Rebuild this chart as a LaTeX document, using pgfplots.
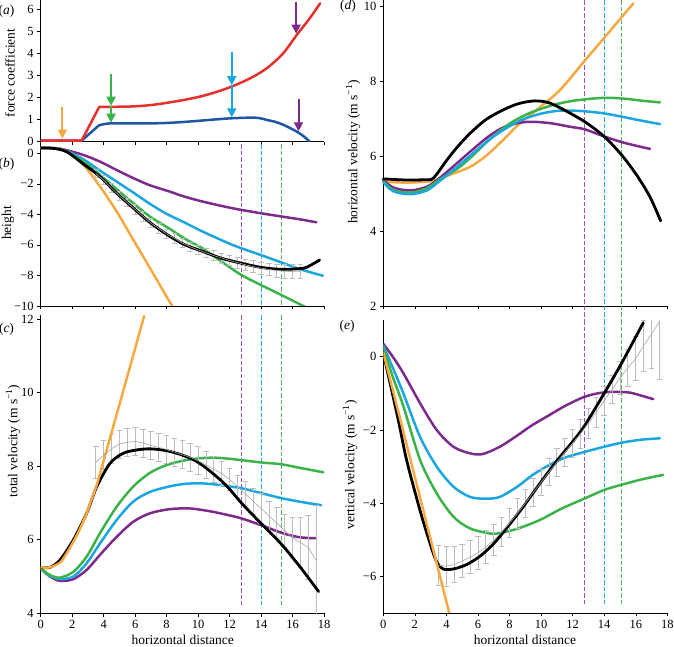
\documentclass[border=0pt]{standalone}
\usepackage{fontspec}
\setmainfont{Liberation Serif}
\usepackage{pgfplots}
\pgfplotsset{compat=1.18}
\usepackage{pgfplotstable}
\usetikzlibrary{arrows.meta}

\definecolor{cOr}{HTML}{F6A941}
\definecolor{cGr}{HTML}{3BB34A}
\definecolor{cCy}{HTML}{1BA6DF}
\definecolor{cPu}{HTML}{7D2A8D}
\definecolor{cRe}{HTML}{E4312D}
\definecolor{cBl}{HTML}{1F57A3}
\definecolor{cGy}{HTML}{BDBDBD}
\definecolor{cGyL}{HTML}{A5A5A5}
\definecolor{dPu}{HTML}{A04DB5}
\definecolor{dCy}{HTML}{2BAAE2}
\definecolor{dGr}{HTML}{4DB85A}

\pgfplotsset{
  panel/.style={scale only axis, xmin=0, xmax=18, xtick={0,2,...,18},
    axis x line*=bottom, axis y line*=left, axis line style={line width=0.5pt},
    tick align=outside, major tick length=3.5pt, tick style={black, line width=0.5pt},
    tick label style={font=\fontsize{12.5}{13}\selectfont},
    /pgf/number format/assume math mode=true},
  curve/.style={line width=2.5pt, smooth, line cap=round, line join=round},
  vdash/.style={line width=1pt, dash pattern=on 4.5pt off 2pt},
  ebars/.style={draw=none, mark=none, error bars/.cd, y dir=both, y explicit,
    error bar style={draw=cGy, line width=0.8pt},
    error mark options={draw=cGy, rotate=90, mark size=2.8pt, line width=0.8pt}},
  arr/.style={line width=2pt, -{Triangle[length=9pt, width=9pt]}},
}

% grey means with errors
\pgfplotstableread{
x y e
3.5 -1.32 0.28
4.0 -1.75 0.28
4.5 -2.28 0.28
5.0 -2.78 0.28
5.5 -3.23 0.28
6.0 -3.68 0.30
6.5 -4.13 0.30
7.0 -4.57 0.30
7.5 -4.92 0.30
8.0 -5.28 0.30
8.5 -5.57 0.30
9.0 -5.88 0.30
9.5 -6.12 0.30
10.0 -6.33 0.30
10.5 -6.52 0.30
11.0 -6.70 0.32
11.5 -6.86 0.32
12.0 -7.02 0.33
12.5 -7.16 0.35
13.0 -7.30 0.36
13.5 -7.42 0.38
14.0 -7.52 0.40
14.5 -7.60 0.40
15.0 -7.68 0.42
15.5 -7.73 0.45
16.0 -7.75 0.45
16.5 -7.75 0.45
}\greyb

\pgfplotstableread{
x y e
3.5 8.10 0.43
4.0 8.30 0.40
4.5 8.47 0.40
5.0 8.60 0.38
5.5 8.65 0.38
6.0 8.67 0.38
6.5 8.63 0.38
7.0 8.56 0.38
7.5 8.51 0.38
8.0 8.45 0.38
8.5 8.38 0.38
9.0 8.31 0.38
9.5 8.24 0.38
10.0 8.15 0.38
10.5 8.03 0.36
11.0 7.92 0.35
11.5 7.80 0.32
12.0 7.64 0.30
12.5 7.45 0.31
13.0 7.25 0.33
13.5 7.05 0.35
14.0 6.85 0.40
14.5 6.65 0.40
15.0 6.45 0.42
15.5 6.25 0.45
16.0 6.05 0.55
16.5 5.93 0.67
17.0 5.79 0.88
17.5 5.45 1.47
}\greyc

\pgfplotstableread{
x y e
3.5 -5.70 0.55
4.0 -5.72 0.55
4.5 -5.68 0.50
5.0 -5.58 0.45
5.5 -5.48 0.45
6.0 -5.36 0.45
6.5 -5.20 0.45
7.0 -5.01 0.42
7.5 -4.79 0.40
8.0 -4.55 0.40
8.5 -4.28 0.40
9.0 -4.00 0.38
9.5 -3.71 0.38
10.0 -3.43 0.36
10.5 -3.15 0.36
11.0 -2.88 0.38
11.5 -2.62 0.38
12.0 -2.36 0.38
12.5 -2.10 0.40
13.0 -1.82 0.40
13.5 -1.52 0.40
14.0 -1.20 0.40
14.5 -0.89 0.39
15.0 -0.58 0.45
15.5 -0.30 0.50
16.0 -0.05 0.60
16.5 0.30 0.70
17.0 0.62 0.95
17.5 0.95 1.57
}\greye

\begin{document}
\begin{tikzpicture}
\useasboundingbox (0,0) rectangle (674pt,647pt);

% (a) force coefficient
\begin{axis}[panel, at={(40.7pt,505.3pt)}, anchor=south west,
  width=283.3pt, height=141.2pt, ymin=0, ymax=6.4, ytick={0,1,...,6},
  xticklabels={}]
\addplot[cBl, line width=2.5pt, line join=round] coordinates {(0,0.05) (2.6,0.05) (3.72,0.75)};
\addplot[cBl, curve] coordinates {
(3.72,0.75) (4.4,0.83) (5.9,0.83) (7,0.83) (8,0.85) (9,0.89) (10.1,0.95)
(11.1,1.01) (12.1,1.06) (13.3,1.09) (13.9,1.07) (14.35,0.99) (14.9,0.9)
(15.4,0.77) (15.9,0.6) (16.26,0.46) (16.7,0.25) (17.1,0.0)};
\addplot[cRe, line width=2.5pt, line join=round] coordinates {(0,0.05) (2.6,0.05) (3.72,1.58)};
\addplot[cRe, curve] coordinates {
(3.72,1.58) (4.5,1.58) (5.9,1.6) (7,1.66) (8,1.76) (9,1.88) (10.1,2.04)
(11.1,2.24) (12.1,2.49) (13.3,2.87) (14.35,3.32) (15.4,4.0) (16.26,4.83)
(17.1,5.6) (17.75,6.27)};
% arrows
\addplot[cOr, arr] coordinates {(1.38,1.56) (1.38,0.14)};
\addplot[cGr, arr] coordinates {(4.47,3.07) (4.47,1.63)};
\addplot[cGr, arr] coordinates {(4.47,1.63) (4.47,0.86)};
\addplot[cCy, arr] coordinates {(12.14,4.08) (12.14,2.56)};
\addplot[cCy, arr] coordinates {(12.14,2.56) (12.14,1.1)};
\addplot[cPu, arr] coordinates {(16.23,6.35) (16.23,4.9)};
\addplot[cPu, arr] coordinates {(16.38,1.92) (16.38,0.47)};
\end{axis}

% (b) height
\begin{axis}[panel, at={(40.7pt,341pt)}, anchor=south west,
  width=283.3pt, height=161.9pt, ymin=-10, ymax=0.6,
  ytick={-10,-8,-6,-4,-2,0}, yticklabels={−10,−8,−6,−4,−2,0}, xticklabels={}]
\addplot[dPu, vdash] coordinates {(12.78,0.6) (12.78,-10)};
\addplot[dCy, vdash] coordinates {(14.0,0.6) (14.0,-10)};
\addplot[dGr, vdash] coordinates {(15.3,0.6) (15.3,-10)};
\addplot[cPu, curve] coordinates {
(0,0.35) (1,0.33) (1.65,0.2) (2.71,-0.11) (3.77,-0.55) (4.83,-1.1) (5.89,-1.63)
(6.95,-2.1) (8.2,-2.51) (9.07,-2.82) (10.13,-3.12) (11.19,-3.38) (12.0,-3.56)
(12.75,-3.71) (14.0,-3.93) (15.42,-4.16) (16.5,-4.33) (17.51,-4.52)};
\addplot[cCy, curve] coordinates {
(0,0.35) (1,0.32) (1.65,0.15) (2.71,-0.39) (3.77,-1.14) (4.83,-1.86) (5.89,-2.58)
(6.95,-3.32) (8.0,-3.97) (9.07,-4.5) (10.13,-5.05) (11.19,-5.55) (12.0,-5.92)
(12.75,-6.22) (13.98,-6.66) (15.42,-7.2) (16.5,-7.6) (17.93,-8.02)};
\addplot[cGr, curve] coordinates {
(0,0.35) (1,0.3) (1.65,0.1) (2.71,-0.55) (3.77,-1.42) (4.83,-2.36) (5.89,-3.28)
(6.95,-4.15) (8.2,-4.95) (9.2,-5.62) (10.32,-6.25) (11.5,-7.1) (12.75,-7.97)
(13.98,-8.62) (15.29,-9.28) (16.88,-10.1)};
\addplot[cOr, curve] coordinates {
(0,0.35) (1,0.3) (1.65,0.1) (2.71,-0.76) (3.77,-2.18) (4.83,-3.82) (5.89,-5.68)
(6.95,-7.53) (8.0,-9.39) (8.47,-10.2)};
\addplot[ebars] table[x=x, y=y, y error=e] {\greyb};
\addplot[black, curve, line width=2.8pt] coordinates {
(0,0.35) (0.8,0.32) (1.65,0.1) (2.71,-0.7) (3.77,-1.53) (4.83,-2.62) (5.9,-3.6)
(6.95,-4.54) (8.0,-5.3) (9.07,-5.95) (10.32,-6.44) (11.5,-6.88) (12.75,-7.2)
(13.98,-7.47) (15.29,-7.6) (16.66,-7.53) (17.2,-7.3) (17.72,-6.99)};
\addplot[cGyL, line width=0.6pt, mark=none] table[x=x, y=y] {\greyb};
\end{axis}

% (c) total velocity
\begin{axis}[panel, at={(40.7pt,33.7pt)}, anchor=south west,
  width=283.3pt, height=298pt, ymin=4, ymax=12.1, ytick={4,6,...,12}]
\addplot[dPu, vdash] coordinates {(12.78,12.1) (12.78,4.23)};
\addplot[dCy, vdash] coordinates {(14.0,12.1) (14.0,4.23)};
\addplot[dGr, vdash] coordinates {(15.3,12.1) (15.3,4.23)};
\addplot[cPu, curve] coordinates {
(0,5.22) (0.59,5.0) (1.23,4.88) (2.08,4.93) (2.92,5.18) (3.77,5.59) (4.83,6.08)
(5.89,6.49) (6.95,6.72) (8.2,6.83) (9.47,6.85) (10.8,6.77) (11.8,6.68)
(12.75,6.58) (13.98,6.4) (15.29,6.19) (16.4,6.07) (17.45,6.04)};
\addplot[cCy, curve] coordinates {
(0,5.22) (0.59,5.02) (1.23,4.93) (2.08,5.0) (2.92,5.36) (3.77,5.9) (4.83,6.54)
(5.89,7.04) (6.95,7.3) (8.2,7.45) (9.2,7.52) (10.32,7.53) (11.5,7.48)
(12.75,7.4) (13.98,7.27) (15.29,7.13) (16.5,7.03) (17.82,6.94)};
\addplot[cGr, curve] coordinates {
(0,5.22) (0.59,5.04) (1.23,4.97) (2.08,5.13) (2.92,5.54) (3.77,6.18) (4.83,6.9)
(5.89,7.45) (6.95,7.82) (8.0,8.03) (9.07,8.15) (10.0,8.21) (11.0,8.23) (12.0,8.2)
(13.0,8.15) (14.0,8.1) (15.3,8.05) (16.5,7.95) (18,7.83)};
\addplot[ebars] table[x=x, y=y, y error=e] {\greyc};
\addplot[black, curve, line width=2.8pt] coordinates {
(0,5.25) (0.59,5.25) (1.23,5.45) (2.08,6.0) (2.92,6.72) (3.56,7.44) (4.41,8.08)
(5.25,8.35) (6.1,8.44) (6.95,8.47) (8.0,8.42) (9.0,8.3) (9.9,8.13) (10.8,7.85)
(11.8,7.47) (12.75,7.0) (13.98,6.45) (15.29,5.88) (16.5,5.25) (17.66,4.59)};
\addplot[cOr, curve] coordinates {
(0,5.25) (0.59,5.25) (1.23,5.38) (1.65,5.63) (2.08,5.95) (2.5,6.3) (2.92,6.72)
(3.14,6.99) (3.56,7.49) (4.0,8.15) (5.0,9.67) (6.0,11.2) (6.57,12.08)};
\addplot[cGyL, line width=0.6pt, mark=none] table[x=x, y=y] {\greyc};
\end{axis}

% (d) horizontal velocity
\begin{axis}[panel, at={(383.3pt,341pt)}, anchor=south west,
  width=284pt, height=305.6pt, ymin=2, ymax=10.15, ytick={2,4,...,10},
  xticklabels={}, clip=false]
\addplot[dPu, vdash] coordinates {(12.78,10.15) (12.78,1.63)};
\addplot[dCy, vdash] coordinates {(14.0,10.15) (14.0,1.63)};
\addplot[dGr, vdash] coordinates {(15.1,10.15) (15.1,1.63)};
\addplot[cOr, curve] coordinates {
(0,5.32) (1.48,5.29) (3.17,5.34) (4.23,5.5) (5.49,5.71) (6.5,6.0) (7.6,6.43)
(8.6,6.85) (9.72,7.23) (11.2,7.76) (12.78,8.55) (14.0,9.15) (15.1,9.7) (15.85,10.07)};
\addplot[cPu, curve] coordinates {
(0,5.36) (0.63,5.16) (1.69,5.08) (2.75,5.18) (3.59,5.42) (4.65,5.8) (5.49,6.11)
(6.76,6.55) (7.82,6.8) (9.09,6.91) (10.5,6.88) (11.83,6.78) (12.78,6.71)
(14.0,6.52) (15.2,6.36) (16.27,6.25) (16.9,6.19)};
\addplot[cGr, curve] coordinates {
(0,5.32) (0.63,5.1) (1.69,5.02) (2.75,5.14) (3.59,5.38) (4.65,5.65) (5.49,5.94)
(6.76,6.45) (8.03,6.87) (9.3,7.15) (10.77,7.36) (12.0,7.47) (13.52,7.54)
(14.5,7.55) (15.5,7.52) (16.5,7.47) (17.53,7.43)};
\addplot[cCy, curve] coordinates {
(0,5.3) (0.63,5.06) (1.69,4.98) (2.75,5.08) (3.59,5.34) (4.65,5.7) (5.49,6.0)
(6.76,6.45) (7.82,6.75) (8.87,6.98) (10.0,7.13) (11.2,7.21) (12.5,7.2)
(13.94,7.14) (15.1,7.05) (16.27,6.95) (17.54,6.85)};
\addplot[black, curve, line width=2.8pt] coordinates {
(0,5.39) (1.48,5.36) (3.0,5.37)};
\addplot[black, curve, line width=2.8pt] coordinates {
(3.0,5.37) (3.2,5.42) (3.5,5.58) (4.01,5.88) (4.65,6.22) (5.49,6.6) (6.5,6.97)
(7.6,7.23) (8.6,7.4) (9.61,7.47) (10.5,7.42) (11.5,7.22) (12.78,6.91)
(14.0,6.52) (15.1,6.03) (16.06,5.49) (16.9,4.91) (17.58,4.27)};
\end{axis}

% (e) vertical velocity
\begin{axis}[panel, at={(383.3pt,34.1pt)}, anchor=south west,
  width=284pt, height=292.8pt, ymin=-7, ymax=1,
  ytick={-6,-4,-2,0}, yticklabels={−6,−4,−2,0}]
\addplot[dPu, vdash] coordinates {(12.78,1) (12.78,-6.78)};
\addplot[dCy, vdash] coordinates {(14.0,1) (14.0,-6.78)};
\addplot[dGr, vdash] coordinates {(15.1,1) (15.1,-6.78)};
\addplot[cPu, curve] coordinates {
(0,0.35) (0.6,0.0) (1.27,-0.45) (2.33,-1.27) (3.38,-2.0) (4.44,-2.46) (5.49,-2.64)
(6.3,-2.66) (7.39,-2.46) (8.5,-2.15) (9.4,-1.88) (10.35,-1.64) (11.5,-1.35)
(12.67,-1.11) (13.6,-1.0) (14.58,-0.96) (15.6,-0.98) (16.4,-1.07) (17.11,-1.16)};
\addplot[cCy, curve] coordinates {
(0,0.3) (0.6,-0.3) (1.27,-1.0) (2.33,-2.19) (3.38,-3.0) (4.44,-3.55) (5.49,-3.83)
(6.5,-3.88) (7.39,-3.83) (8.5,-3.55) (9.4,-3.25) (10.35,-3.0) (11.5,-2.76)
(12.78,-2.6) (14.0,-2.46) (15.1,-2.35) (16.3,-2.27) (17.53,-2.23)};
\addplot[cGr, curve] coordinates {
(0,0.25) (0.6,-0.55) (1.27,-1.35) (2.33,-2.82) (3.38,-3.73) (4.44,-4.37)
(5.49,-4.69) (6.76,-4.83) (7.39,-4.82) (8.5,-4.7) (9.93,-4.46) (11.3,-4.15)
(12.78,-3.87) (14.0,-3.64) (15.1,-3.5) (16.4,-3.35) (17.74,-3.23)};
\addplot[ebars] table[x=x, y=y, y error=e] {\greye};
\addplot[black, curve, line width=2.8pt] coordinates {
(0,0.1) (0.95,-1.73) (1.48,-2.83) (2.32,-4.19) (2.96,-5.1) (3.38,-5.6) (3.8,-5.8)
(4.44,-5.8) (5.28,-5.68) (6.13,-5.45) (6.97,-5.12) (7.82,-4.68) (8.87,-4.1)
(9.93,-3.46) (10.99,-2.85) (12.04,-2.3) (12.78,-1.87) (14.0,-1.0) (15.1,-0.18)
(16.48,0.93)};
\addplot[cOr, line width=2.5pt] coordinates {(0,0.12) (4.18,-7.0)};
\addplot[cGyL, line width=0.6pt, mark=none] table[x=x, y=y] {\greye};
\end{axis}

% panel letters and axis titles
\begin{scope}[every node/.style={font=\fontsize{13.5}{15}\selectfont}]
\node at (6.5pt,636pt) {(\textit{a})};
\node at (6.5pt,483pt) {(\textit{b})};
\node at (6.5pt,318pt) {(\textit{c})};
\node at (348pt,641pt) {(\textit{d})};
\node at (347pt,321pt) {(\textit{e})};
\node[rotate=90] at (10pt,574pt) {force coefficient};
\node[rotate=90] at (8pt,424pt) {height};
\node[rotate=90] at (13pt,206pt) {total velocity (m s\textsuperscript{−1})};
\node[rotate=90] at (353pt,495pt) {horizontal velocity (m s\textsuperscript{−1})};
\node[rotate=90] at (350pt,182pt) {vertical velocity (m s\textsuperscript{−1})};
\node at (182.7pt,7pt) {horizontal distance};
\node at (525pt,7pt) {horizontal distance};
\end{scope}
\end{tikzpicture}
\end{document}
